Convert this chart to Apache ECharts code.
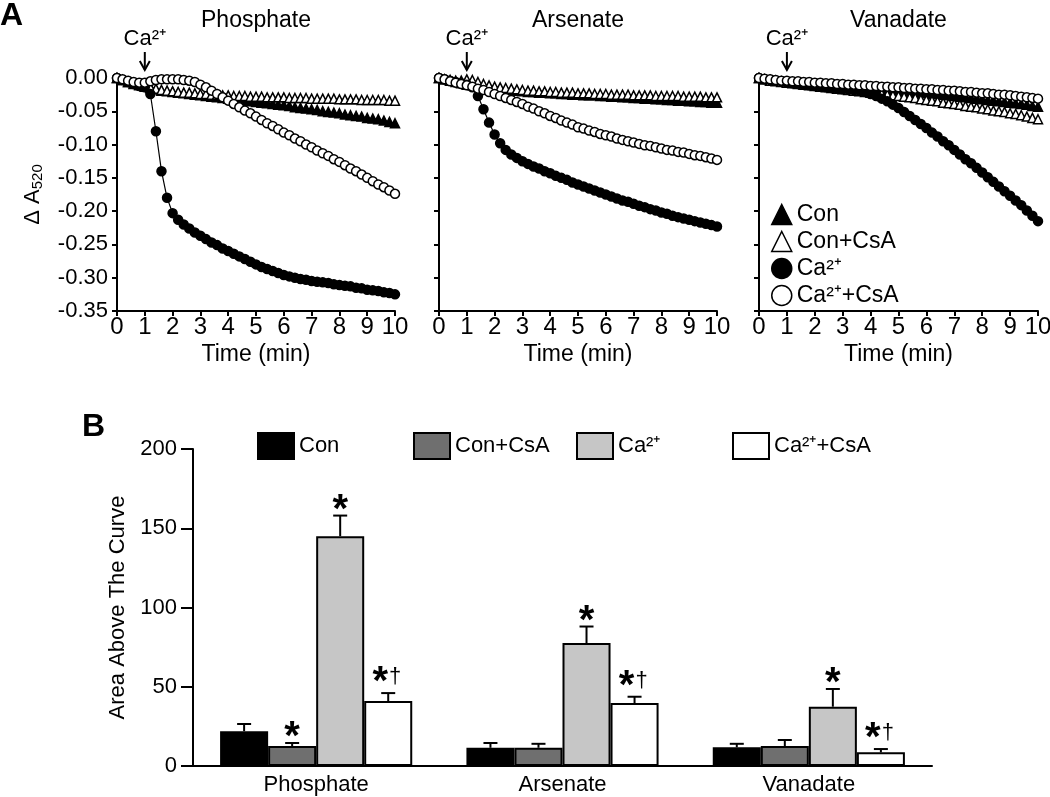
<!DOCTYPE html>
<html><head><meta charset="utf-8">
<script src="https://cdn.jsdelivr.net/npm/echarts@6/dist/echarts.min.js"></script>
<style>html,body{margin:0;padding:0;background:#fff}#c{width:1050px;height:797px}</style>
</head><body><div id="c"></div>
<script>
// ---------- Panel A data (time in min, ΔA520) ----------
const times = [0,0.2,0.4,0.6,0.8,1,1.2,1.4,1.6,1.8,2,2.2,2.4,2.6,2.8,3,3.2,3.4,3.6,3.8,4,4.2,4.4,4.6,4.8,5,5.2,5.4,5.6,5.8,6,6.2,6.4,6.6,6.8,7,7.2,7.4,7.6,7.8,8,8.2,8.4,8.6,8.8,9,9.2,9.4,9.6,9.8,10];

const phosCon = [0,-0.003,-0.006,-0.009,-0.011,-0.013,-0.015,-0.017,-0.019,-0.020,-0.021,-0.022,-0.023,-0.024,-0.025,-0.026,-0.027,-0.028,-0.029,-0.030,-0.031,-0.032,-0.033,-0.034,-0.035,-0.036,-0.037,-0.038,-0.039,-0.040,-0.041,-0.042,-0.044,-0.045,-0.046,-0.047,-0.048,-0.050,-0.051,-0.052,-0.053,-0.055,-0.056,-0.057,-0.058,-0.060,-0.061,-0.062,-0.064,-0.066,-0.068];
const phosConCsA = [0,-0.003,-0.006,-0.008,-0.010,-0.012,-0.014,-0.016,-0.018,-0.019,-0.020,-0.021,-0.022,-0.022,-0.023,-0.024,-0.024,-0.025,-0.025,-0.026,-0.026,-0.027,-0.027,-0.027,-0.028,-0.028,-0.028,-0.029,-0.029,-0.029,-0.029,-0.030,-0.030,-0.030,-0.030,-0.031,-0.031,-0.031,-0.031,-0.031,-0.032,-0.032,-0.032,-0.032,-0.033,-0.033,-0.033,-0.033,-0.033,-0.034,-0.034];
const phosCa = [0,-0.003,-0.006,-0.009,-0.012,-0.014,-0.024,-0.080,-0.140,-0.180,-0.203,-0.213,-0.220,-0.226,-0.232,-0.237,-0.242,-0.247,-0.251,-0.256,-0.260,-0.264,-0.268,-0.272,-0.276,-0.280,-0.284,-0.287,-0.290,-0.293,-0.296,-0.298,-0.300,-0.302,-0.303,-0.305,-0.306,-0.307,-0.308,-0.310,-0.311,-0.312,-0.313,-0.315,-0.316,-0.318,-0.319,-0.320,-0.322,-0.323,-0.325];
const phosCaCsA = [0,-0.002,-0.004,-0.006,-0.007,-0.007,-0.005,-0.003,-0.002,-0.002,-0.002,-0.002,-0.003,-0.004,-0.006,-0.010,-0.014,-0.019,-0.024,-0.029,-0.034,-0.039,-0.044,-0.049,-0.053,-0.058,-0.063,-0.068,-0.072,-0.077,-0.082,-0.086,-0.091,-0.095,-0.100,-0.104,-0.109,-0.113,-0.117,-0.122,-0.126,-0.131,-0.136,-0.140,-0.145,-0.150,-0.155,-0.160,-0.164,-0.169,-0.174];

const arsCon = [0,-0.002,-0.004,-0.006,-0.008,-0.010,-0.011,-0.013,-0.014,-0.015,-0.016,-0.017,-0.018,-0.019,-0.019,-0.020,-0.021,-0.021,-0.022,-0.022,-0.023,-0.023,-0.024,-0.024,-0.025,-0.025,-0.026,-0.026,-0.026,-0.027,-0.027,-0.028,-0.028,-0.029,-0.029,-0.030,-0.030,-0.031,-0.031,-0.032,-0.032,-0.033,-0.033,-0.034,-0.034,-0.035,-0.035,-0.036,-0.036,-0.037,-0.037];
const arsConCsA = [0,-0.002,-0.003,-0.004,-0.004,-0.002,-0.003,-0.006,-0.009,-0.011,-0.013,-0.014,-0.015,-0.016,-0.017,-0.018,-0.019,-0.019,-0.020,-0.020,-0.021,-0.021,-0.022,-0.022,-0.022,-0.023,-0.023,-0.023,-0.024,-0.024,-0.024,-0.025,-0.025,-0.025,-0.025,-0.026,-0.026,-0.026,-0.026,-0.027,-0.027,-0.027,-0.027,-0.027,-0.028,-0.028,-0.028,-0.028,-0.029,-0.029,-0.029];
const arsCa = [0,-0.002,-0.004,-0.006,-0.008,-0.010,-0.014,-0.027,-0.047,-0.067,-0.085,-0.098,-0.108,-0.115,-0.120,-0.125,-0.129,-0.133,-0.136,-0.140,-0.143,-0.147,-0.150,-0.153,-0.157,-0.160,-0.163,-0.166,-0.169,-0.172,-0.175,-0.178,-0.181,-0.184,-0.186,-0.189,-0.192,-0.194,-0.197,-0.199,-0.202,-0.204,-0.207,-0.209,-0.211,-0.213,-0.215,-0.217,-0.219,-0.221,-0.223];
const arsCaCsA = [0,-0.002,-0.005,-0.007,-0.009,-0.011,-0.013,-0.016,-0.018,-0.021,-0.024,-0.027,-0.030,-0.033,-0.036,-0.039,-0.043,-0.046,-0.050,-0.053,-0.057,-0.060,-0.064,-0.067,-0.070,-0.074,-0.076,-0.079,-0.081,-0.084,-0.086,-0.088,-0.091,-0.093,-0.095,-0.097,-0.099,-0.101,-0.102,-0.104,-0.106,-0.108,-0.109,-0.111,-0.112,-0.114,-0.116,-0.117,-0.119,-0.121,-0.123];

const vanCon = [0,-0.002,-0.003,-0.004,-0.005,-0.006,-0.007,-0.008,-0.008,-0.009,-0.010,-0.010,-0.011,-0.011,-0.012,-0.012,-0.013,-0.013,-0.014,-0.015,-0.015,-0.016,-0.017,-0.017,-0.018,-0.019,-0.020,-0.020,-0.021,-0.022,-0.023,-0.024,-0.024,-0.025,-0.026,-0.027,-0.028,-0.029,-0.030,-0.031,-0.032,-0.033,-0.034,-0.035,-0.036,-0.037,-0.038,-0.039,-0.040,-0.042,-0.043];
const vanConCsA = [0,-0.002,-0.004,-0.005,-0.006,-0.007,-0.008,-0.009,-0.010,-0.011,-0.012,-0.013,-0.014,-0.015,-0.016,-0.017,-0.018,-0.019,-0.020,-0.021,-0.022,-0.023,-0.024,-0.025,-0.026,-0.027,-0.028,-0.029,-0.030,-0.032,-0.033,-0.034,-0.035,-0.037,-0.038,-0.039,-0.040,-0.042,-0.043,-0.044,-0.046,-0.047,-0.049,-0.050,-0.051,-0.053,-0.054,-0.056,-0.058,-0.060,-0.062];
const vanCa = [0,-0.002,-0.003,-0.004,-0.005,-0.007,-0.008,-0.009,-0.010,-0.011,-0.012,-0.013,-0.014,-0.015,-0.016,-0.017,-0.017,-0.018,-0.019,-0.021,-0.024,-0.027,-0.031,-0.035,-0.040,-0.045,-0.051,-0.057,-0.063,-0.069,-0.075,-0.082,-0.088,-0.095,-0.101,-0.108,-0.115,-0.122,-0.128,-0.135,-0.142,-0.149,-0.156,-0.163,-0.170,-0.177,-0.184,-0.191,-0.199,-0.207,-0.215];
const vanCaCsA = [0,-0.001,-0.002,-0.003,-0.004,-0.004,-0.005,-0.005,-0.006,-0.006,-0.007,-0.007,-0.008,-0.008,-0.009,-0.009,-0.010,-0.010,-0.011,-0.011,-0.012,-0.012,-0.013,-0.013,-0.014,-0.014,-0.015,-0.015,-0.016,-0.016,-0.017,-0.017,-0.018,-0.018,-0.019,-0.019,-0.020,-0.021,-0.021,-0.022,-0.023,-0.023,-0.024,-0.025,-0.025,-0.026,-0.027,-0.028,-0.029,-0.030,-0.031];

const panelTitles = ['Phosphate','Arsenate','Vanadate'];
const groupNames = ['Con','Con+CsA','Ca²⁺','Ca²⁺+CsA'];
const caAddTime = 1; // min, Ca2+ addition
const panelData = [
  [phosCon, phosConCsA, phosCa, phosCaCsA],
  [arsCon, arsConCsA, arsCa, arsCaCsA],
  [vanCon, vanConCsA, vanCa, vanCaCsA]
];

// ---------- Panel B data (area above the curve, mean ± SEM) ----------
const barCategories = ['Phosphate','Arsenate','Vanadate'];
const aucCon = [22, 11.5, 11.8];
const aucConCsA = [12.6, 11.5, 12.6];
const aucCa = [145, 77.6, 37.4];
const aucCaCsA = [41, 39.7, 8.6];
const semCon = [4.5, 3.0, 2.2];
const semConCsA = [1.9, 2.5, 3.8];
const semCa = [13, 10.4, 11.2];
const semCaCsA = [5, 4, 2.1];
const sigCon = ['', '', ''];
const sigConCsA = ['*', '', ''];
const sigCa = ['*', '*', '*'];
const sigCaCsA = ['*†', '*†', '*†'];

const aucAll = [aucCon, aucConCsA, aucCa, aucCaCsA];
const semAll = [semCon, semConCsA, semCa, semCaCsA];
const sigAll = [sigCon, sigConCsA, sigCa, sigCaCsA];

// ---------- styles ----------
const FONT = '"Liberation Sans", Arial, Helvetica, sans-serif';
const markerStyles = [
  {symbol: 'triangle', fill: '#000'},
  {symbol: 'triangle', fill: '#fff'},
  {symbol: 'circle', fill: '#000'},
  {symbol: 'circle', fill: '#fff'}
];
const barFills = ['#000000', '#6f6f6f', '#c6c6c6', '#ffffff'];
const BAR_CAT_GAP = 0.22;

const gridsA = [
  {left: 117, top: 78, width: 278, height: 233},
  {left: 439, top: 78, width: 278, height: 233},
  {left: 759, top: 78, width: 279, height: 233}
];
const gridB = {left: 193, top: 449, width: 739, height: 317};

const grids = gridsA.concat([gridB]).map(g => Object.assign({outerBoundsMode: 'none', containLabel: false}, g));

const xAxes = [], yAxes = [], series = [];
for (let p = 0; p < 3; p++) {
  xAxes.push({
    type: 'value', gridIndex: p, min: 0, max: 10, interval: 1,
    name: 'Time (min)', nameLocation: 'middle', nameGap: 32,
    nameTextStyle: {color: '#000', fontSize: 23, fontFamily: FONT},
    axisLine: {show: true, onZero: false, lineStyle: {color: '#000', width: 2}},
    axisTick: {show: true, length: 5, lineStyle: {color: '#000', width: 2}},
    axisLabel: {color: '#000', fontSize: 24, fontFamily: FONT, margin: 4, showMinLabel: true, showMaxLabel: true, hideOverlap: false},
    splitLine: {show: false}
  });
  yAxes.push({
    type: 'value', gridIndex: p, min: -0.35, max: 0, interval: 0.05,
    name: p === 0 ? '{a|Δ A}{sub|520}' : '', nameLocation: 'middle', nameGap: 72,
    nameTextStyle: {color: '#000', fontFamily: FONT, rich: {
      a: {fontSize: 22, color: '#000', fontFamily: FONT},
      sub: {fontSize: 15, color: '#000', fontFamily: FONT, padding: [10, 0, 0, 0]}
    }},
    axisLine: {show: true, onZero: false, lineStyle: {color: '#000', width: 2}},
    axisTick: {show: true, length: 5, lineStyle: {color: '#000', width: 2}},
    axisLabel: {show: p === 0, color: '#000', fontSize: 22, fontFamily: FONT, margin: 9,
      formatter: v => v.toFixed(2), showMinLabel: true, showMaxLabel: true},
    splitLine: {show: false}
  });
  for (let k = 0; k < 4; k++) {
    series.push({
      type: 'line', name: groupNames[k], xAxisIndex: p, yAxisIndex: p,
      data: times.map((t, i) => [t, panelData[p][k][i]]),
      symbol: markerStyles[k].symbol, symbolSize: 9, showAllSymbol: true,
      itemStyle: {color: markerStyles[k].fill, borderColor: '#000', borderWidth: 1.5},
      lineStyle: {color: '#000', width: 1.2},
      clip: false, silent: true, animation: false, emphasis: {disabled: true}
    });
  }
}

// Panel B axes
xAxes.push({
  type: 'category', gridIndex: 3, data: barCategories,
  axisLine: {show: true, onZero: false, lineStyle: {color: '#000', width: 2}},
  axisTick: {show: false},
  axisLabel: {color: '#000', fontSize: 22, fontFamily: FONT, margin: 8},
  splitLine: {show: false}
});
yAxes.push({
  type: 'value', gridIndex: 3, min: 0, max: 200, interval: 50,
  name: 'Area Above The Curve', nameLocation: 'middle', nameGap: 62,
  nameTextStyle: {color: '#000', fontSize: 22, fontFamily: FONT},
  axisLine: {show: true, onZero: false, lineStyle: {color: '#000', width: 2}},
  axisTick: {show: true, length: 12, lineStyle: {color: '#000', width: 2}},
  axisLabel: {color: '#000', fontSize: 22, fontFamily: FONT, margin: 16, showMinLabel: true, showMaxLabel: true},
  splitLine: {show: false}
});

for (let k = 0; k < 4; k++) {
  series.push({
    type: 'bar', name: groupNames[k], xAxisIndex: 3, yAxisIndex: 3,
    data: aucAll[k],
    barGap: '0%', barCategoryGap: (BAR_CAT_GAP * 100) + '%',
    itemStyle: {color: barFills[k], borderColor: '#000', borderWidth: 2},
    silent: true, animation: false, emphasis: {disabled: true}
  });
}
for (let k = 0; k < 4; k++) {
  series.push({
    type: 'custom', name: groupNames[k] + ' SEM', xAxisIndex: 3, yAxisIndex: 3,
    data: aucAll[k].map((v, i) => [i, v, semAll[k][i]]),
    silent: true, animation: false, z: 5,
    renderItem: (params, api) => {
      const cat = api.value(0), val = api.value(1), err = api.value(2);
      const c = api.coord([cat, val]);
      const band = api.size([1, 0])[0];
      const bw = band * (1 - BAR_CAT_GAP) / 4;
      const x = c[0] + (k - 1.5) * bw;
      const yBar = c[1];
      const yTop = api.coord([cat, val + err])[1];
      const cap = 7;
      const children = [
        {type: 'line', shape: {x1: x, y1: yBar, x2: x, y2: yTop}, style: {stroke: '#000', lineWidth: 2}},
        {type: 'line', shape: {x1: x - cap, y1: yTop, x2: x + cap, y2: yTop}, style: {stroke: '#000', lineWidth: 2}}
      ];
      const sig = sigAll[k][params.dataIndex];
      if (sig === '*') {
        children.push({type: 'text', style: {text: '*', x: x, y: yTop - 5, fill: '#000',
          font: 'bold 40px ' + FONT, align: 'center', verticalAlign: 'middle'}});
      } else if (sig === '*†') {
        children.push({type: 'text', style: {text: '*', x: x - 8, y: yTop - 10, fill: '#000',
          font: 'bold 40px ' + FONT, align: 'center', verticalAlign: 'middle'}});
        children.push({type: 'text', style: {text: '†', x: x + 7, y: yTop - 16, fill: '#000',
          font: '22px ' + FONT, align: 'center', verticalAlign: 'middle'}});
      }
      return {type: 'group', children};
    }
  });
}

const legendA = {
  orient: 'vertical', left: 771, top: 203, padding: 0, itemGap: 4,
  itemWidth: 20, itemHeight: 20, selectedMode: false,
  textStyle: {color: '#000', fontSize: 23, fontFamily: FONT},
  data: groupNames.map((n, k) => ({name: n, icon: markerStyles[k].symbol,
    itemStyle: {color: markerStyles[k].fill, borderColor: '#000', borderWidth: 1.5}}))
};
const legendBLeft = [257, 413, 576, 732];
const legendsB = groupNames.map((n, k) => ({
  orient: 'horizontal', left: legendBLeft[k], top: 432, padding: 0,
  itemWidth: 36, itemHeight: 26, selectedMode: false,
  textStyle: {color: '#000', fontSize: 22, fontFamily: FONT},
  data: [{name: n, icon: 'rect', itemStyle: {color: barFills[k], borderColor: '#000', borderWidth: 2}}]
}));

const titles = [
  {text: 'A', left: 0, top: 0, padding: 0, textStyle: {fontSize: 32, fontWeight: 'bold', color: '#000', fontFamily: FONT}},
  {text: 'B', left: 82, top: 411, padding: 0, textStyle: {fontSize: 32, fontWeight: 'bold', color: '#000', fontFamily: FONT}}
].concat(panelTitles.map((t, p) => ({
  text: t, left: gridsA[p].left + gridsA[p].width / 2, top: 9, padding: 0, textAlign: 'center',
  textStyle: {fontSize: 23, fontWeight: 'normal', color: '#000', fontFamily: FONT}
})));

const chart = echarts.init(document.getElementById('c'), null, {renderer: 'canvas'});
chart.setOption({
  backgroundColor: '#fff',
  animation: false,
  title: titles,
  legend: [legendA].concat(legendsB),
  grid: grids,
  xAxis: xAxes,
  yAxis: yAxes,
  series: series
});

// Ca2+ addition arrows, placed through the axes' scales
const graphics = [];
for (let p = 0; p < 3; p++) {
  const x = chart.convertToPixel({xAxisIndex: p}, caAddTime);
  const y0 = chart.convertToPixel({yAxisIndex: p}, 0);
  graphics.push({type: 'text', x: x, y: y0 - 39, style: {text: 'Ca²⁺', fill: '#000', font: '22px ' + FONT, align: 'center', verticalAlign: 'middle'}, silent: true});
  graphics.push({type: 'line', shape: {x1: x, y1: y0 - 26, x2: x, y2: y0 - 8}, style: {stroke: '#000', lineWidth: 2}, silent: true});
  graphics.push({type: 'polyline', shape: {points: [[x - 5, y0 - 17], [x, y0 - 8], [x + 5, y0 - 17]]}, style: {stroke: '#000', lineWidth: 2, fill: null}, silent: true});
}
chart.setOption({graphic: graphics});
</script>
</body></html>
